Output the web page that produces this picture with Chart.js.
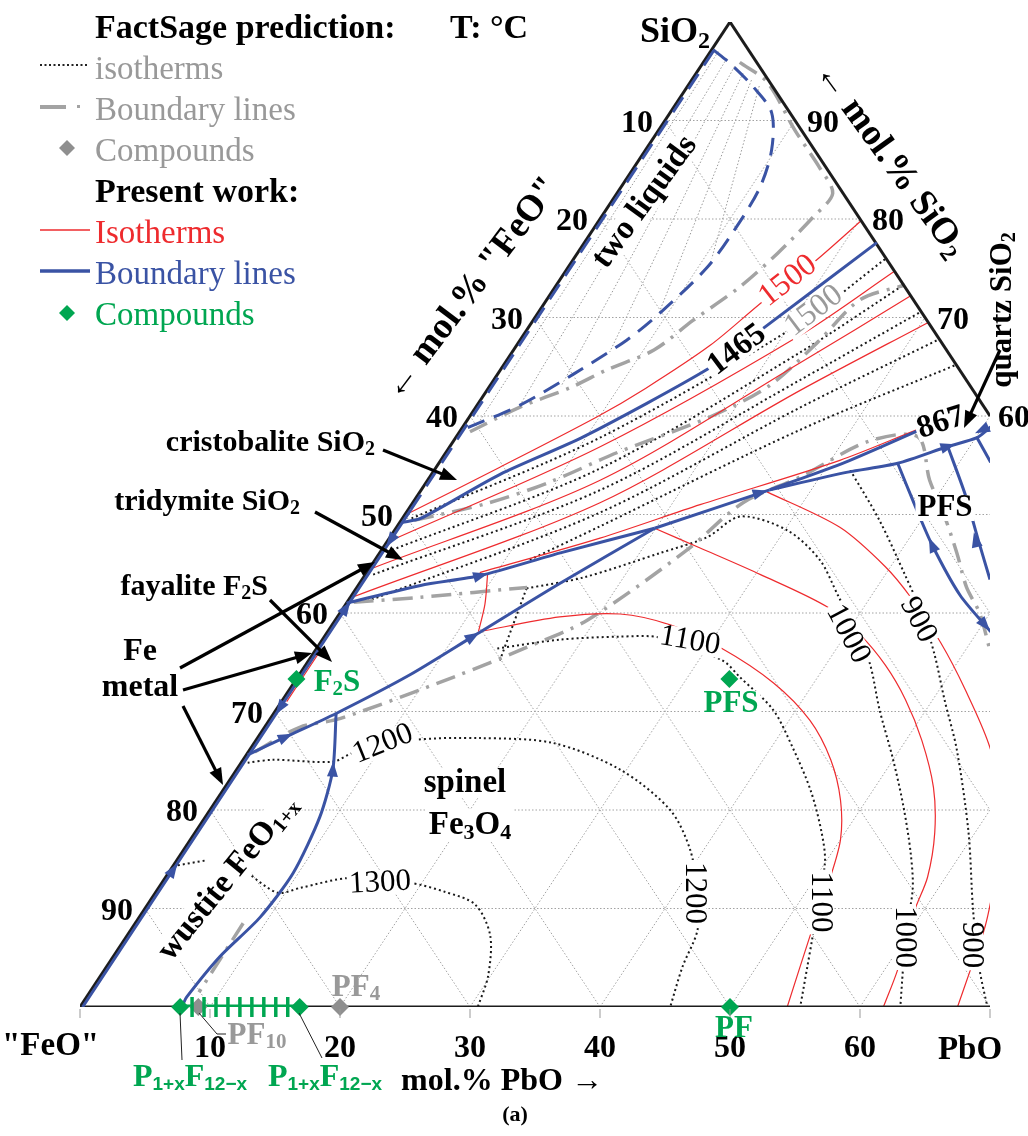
<!DOCTYPE html>
<html>
<head>
<meta charset="utf-8">
<style>html,body{margin:0;padding:0;background:#fff}canvas{display:block}</style>
<script src="https://cdn.jsdelivr.net/npm/chart.js@4.4.0/dist/chart.umd.min.js"></script>
</head>
<body>
<canvas id="chart" width="1028" height="1136"></canvas>
<script>
// every point is [mol% PbO, mol% SiO2]; "FeO" is the rest
let gridTicks = [10, 20, 30, 40, 50, 60, 70, 80, 90];
let bottomTicks = [10, 20, 30, 40, 50, 60];
let leftTicks = [10, 20, 30, 40, 50, 60, 70, 80, 90];   // mol% "FeO"
let rightTicks = [90, 80, 70, 60];                      // mol% SiO2

let edgeLeft = [[0, 0], [0, 100]];
let edgeRight = [[0, 100], [40, 60]];
let edgeBottom = [[0, 0], [70, 0]];

// present work: isotherms (red)
let red1500 = [[0.3, 50.2], [4.9, 54.8], [9.8, 59.9], [12.1, 62.8], [14.9, 67.2], [16.7, 71.6], [18.6, 75.5], [20.2, 79.9]];
let redBand2 = [[0.3, 47.4], [11.6, 56.9], [21.3, 68.2], [25.3, 74.7]];
let redBand3 = [[0.3, 44.6], [13.3, 53.5], [22.7, 65.4], [27.8, 72.2]];
let redBand4 = [[0.3, 41.7], [14.4, 51.2], [24.1, 62.6], [30.5, 69.5]];
let redBand5 = [[8.7, 44.1], [16.2, 47.6], [22.2, 51.0], [30.7, 55.5], [35.8, 59.1], [38.3, 60.4]];
let redLink = [[9.4, 43.9], [10.7, 40.9], [11.6, 38.1]];
let redEdge = [[0.4, 36.2], [0.4, 31.0]];
let red1100 = [[11.7, 38.1], [17.1, 39.6], [21.6, 39.9], [26.0, 38.8], [31.0, 36.5], [36.9, 32.9], [41.6, 29.1], [45.2, 25.1], [48.0, 21.0], [50.0, 17.0], [51.2, 12.9], [52.4, 7.8], [54.4, 0]];
let red1000 = [[19.9, 48.6], [24.4, 46.6], [30.4, 43.9], [37.2, 40.6], [41.1, 37.8], [44.6, 34.7], [47.9, 31.2], [51.2, 27.1], [54.5, 22.3], [56.9, 17.7], [58.6, 13.2], [59.3, 9.8], [61.0, 3.8], [61.8, 0]];
let red900 = [[26.7, 52.3], [34.1, 48.7], [39.6, 44.7], [43.1, 41.6], [47.7, 37.0], [52.0, 32.2], [57.0, 26.1], [61.5, 19.0], [63.9, 12.9], [65.5, 8.3], [66.6, 3.8], [67.5, 0]];

// present work: boundary lines (blue)
let blueEdge = [[0.2, 0], [0.2, 50.5]];
let blueEdgeDash = [[0.2, 50.5], [0.2, 97.2]];
let blueTwoLiquids = [[0.1, 97.2], [2.1, 95.8], [5.1, 93.4], [7.8, 90.8], [9.7, 87.0], [10.7, 83.2], [10.9, 79.2], [10.7, 75.1], [9.4, 70.5], [8.2, 67.7], [5.8, 64.2], [3.3, 61.1], [0.4, 58.8]];
let blue1465 = [[0.2, 49.2], [1.4, 49.6], [5.3, 54.1], [9.8, 57.9], [16.0, 64.9], [18.1, 68.9], [22.5, 77.6]];
let blueA = [[0.0, 41.0], [4.8, 42.8], [8.9, 43.8], [13.9, 46.1], [19.9, 48.6]];
let blueB = [[0.1, 25.6], [2.1, 27.4], [4.8, 29.8], [8.5, 33.7], [11.4, 37.6], [15.4, 43.0], [19.9, 48.6]];
let blueC = [[19.9, 48.6], [26.8, 52.5]];
let blueUpper = [[26.8, 52.5], [31.2, 55.3], [35.3, 58.6]];
let blueLower = [[26.8, 52.5], [31.9, 54.3], [35.3, 55.2], [38.3, 56.9], [40.1, 57.8], [40.6, 58.9]];
let bluePFS1 = [[35.3, 55.2], [38.7, 51.0], [42.1, 46.9], [46.8, 41.8], [51.0, 38.1]];
let bluePFS2 = [[38.3, 56.9], [42.1, 52.0], [45.4, 47.4], [48.3, 43.4]];
let bluePFS3 = [[40.1, 57.8], [42.4, 55.3]];
let blueWustite = [[4.8, 29.8], [7.4, 24.1], [8.8, 19.3], [9.6, 13.6], [9.3, 9.1], [8.2, 5.1], [7.7, 1.0], [7.8, 0.2]];
// arrow marks: position, then a point it points toward
let blueArrows = [
  [0.2, 13.9, 0.2, 16], [0.2, 30.4, 0.2, 28], [0.2, 40.5, 0.2, 43], [0.2, 47.4, 0.2, 45],
  [2.1, 27.4, 4.8, 29.8], [11.4, 37.6, 15.4, 43.0], [8.9, 43.8, 13.9, 46.1], [26.2, 52.2, 26.8, 52.5],
  [38.3, 56.9, 40.1, 57.8], [42.1, 46.9, 38.7, 51.0], [50.2, 38.8, 51.0, 38.1], [45.2, 47.4, 42.1, 52.0],
  [7.4, 24.1, 4.8, 29.8], [40.1, 58.6, 38.3, 56.9]
];

// FactSage: isotherms (black dotted)
let dotBand1 = [[0.7, 49.6], [11.1, 57.8], [20.7, 69.4], [24.0, 76.0]];
let dotBand2 = [[0.8, 46.4], [12.7, 54.7], [22.2, 66.5], [26.7, 73.3]];
let dotBand3 = [[0.6, 43.9], [13.8, 52.5], [23.6, 63.7], [29.4, 70.6]];
let dotBand4 = [[1.5, 41.2], [14.9, 50.2], [25.0, 60.9], [32.2, 67.8]];
let dotBand5 = [[11.9, 45.4], [15.6, 48.8], [26.1, 58.6], [34.8, 65.2]];
let dotShort = [[13.1, 42.5], [14.7, 35.2]];
let dot1300a = [[0.0, 14.3], [2.3, 14.9]];
let dot1300 = [[6.1, 13.6], [9.4, 11.6], [10.9, 12.1], [14.2, 13.1], [19.1, 12.6], [22.2, 11.7], [25.2, 10.4], [27.9, 7.3], [29.8, 3.2], [30.6, 0]];
let dot1200 = [[0.5, 24.8], [2.3, 25.1], [7.0, 24.9], [8.1, 25.8], [12.1, 27.1], [17.1, 27.3], [23.0, 26.8], [29.5, 24.1], [35.4, 20.0], [39.0, 15.9], [41.8, 11.4], [43.6, 7.8], [44.3, 4.1], [45.4, 0]];
let dot1100 = [[13.9, 36.4], [18.3, 37.3], [22.7, 37.6], [25.9, 37.5], [31.8, 35.2], [34.0, 33.5], [38.2, 30.2], [41.6, 26.4], [45.2, 22.0], [48.2, 17.7], [50.0, 14.6], [52.8, 7.1], [53.9, 4.1], [55.4, 0]];
let dot1000 = [[13.1, 42.5], [16.9, 43.6], [21.6, 46.1], [24.4, 47.7], [25.9, 49.8], [30.2, 48.4], [34.2, 45.4], [37.4, 41.8], [40.5, 38.3], [43.3, 34.9], [46.4, 30.2], [50.0, 25.1], [53.2, 20.3], [56.1, 15.6], [58.1, 11.9], [59.9, 7.1], [61.4, 3.8], [63.1, 0]];
let dot900 = [[32.0, 54.5], [36.8, 49.4], [41.5, 43.9], [44.9, 39.8], [47.9, 35.7], [50.9, 31.2], [54.4, 26.1], [59.5, 17.7], [63.8, 9.8], [67.3, 3.8], [69.8, 0]];
let tieLines = [
  [[0.6, 97.0], [1.0, 59.5]], [[1.6, 96.3], [3.3, 61.0]], [[2.6, 95.5], [5.5, 63.0]],
  [[3.6, 94.8], [7.5, 66.5]], [[4.6, 94.1], [9.3, 70.5]], [[5.5, 93.5], [10.6, 76.0]]
];

// FactSage: boundary lines (grey dash-dot)
let greyTwoLiquids = [[2.8, 95.9], [5.9, 93.9], [10.5, 89.0], [14.3, 85.2], [16.6, 82.6], [16.3, 80.2], [15.4, 76.5], [14.2, 73.1], [12.3, 69.7], [10.8, 66.7], [8.2, 64.7], [6.3, 62.9], [3.4, 60.9], [0.8, 58.4]];
let grey1500 = [[1.0, 49.4], [5.9, 51.2], [9.5, 53.3], [13.2, 56.3], [18.5, 59.9], [21.5, 63.1], [23.0, 67.5], [24.1, 71.8], [26.8, 73.3]];
let greyFayalite = [[0.5, 41.1], [5.4, 41.6], [13.1, 42.6]];
let greySpinel = [[0.5, 25.9], [2.7, 28.4], [5.4, 29.3], [12.0, 33.5], [16.1, 36.5], [19.4, 39.3], [23.5, 46.4], [25.4, 51.2], [28.5, 53.8], [31.9, 57.4], [35.5, 57.9], [38.6, 53.5], [41.3, 50.2], [44.4, 46.1], [46.9, 42.6], [49.2, 40.0], [51.9, 36.2]];
let greyWustite = [[8.3, 8.5], [8.4, 1.5]];

// compounds
let greenCompounds = [[0, 33.3], [33.3, 33.3], [50, 0], [7.7, 0], [16.9, 0]];
let greyCompounds = [[9.1, 0], [20, 0]];
let solidSolution = [[7.7, 0], [16.9, 0]];

const RED = '#ee2b2e', BLUE = '#3a53a4', GREEN = '#00a651', GREY = '#a3a3a3', GRID = '#a2a2a2';
const SF = '"Liberation Serif","Times New Roman",serif';
const SANS = '"Liberation Sans",Arial,sans-serif';

const toXY = pts => pts.map(([p, s]) => ({x: p + s / 2, y: s}));
let datasets = [];
function addLine(pts, color, width, dash, tension, order) {
  datasets.push({
    data: toXY(pts), showLine: true, borderColor: color, borderWidth: width,
    borderDash: dash, tension: tension, pointRadius: 0, fill: false, order: order
  });
}

gridTicks.forEach(k => {
  addLine([[0, k], [100 - k, k]], GRID, 1, [1.5, 2], 0, 9);
  addLine([[k, 0], [k, 100 - k]], GRID, 1, [1.5, 2], 0, 9);
  addLine([[100 - k, 0], [0, 100 - k]], GRID, 1, [1.5, 2], 0, 9);
});
tieLines.forEach(t => addLine(t, '#9a9a9a', 1, [1.5, 2], 0, 8));

[dotBand1, dotBand2, dotBand3, dotBand4, dotBand5, dotShort, dot1300a, dot1300, dot1200, dot1100, dot1000, dot900]
  .forEach(d => addLine(d, '#1a1a1a', 2, [2, 3], 0.3, 6));
[greyTwoLiquids, grey1500, greyFayalite, greySpinel, greyWustite]
  .forEach(d => addLine(d, GREY, 3.5, [20, 8, 3, 8], 0.3, 5));
[red1500, redBand2, redBand3, redBand4, redBand5, redLink, redEdge, red1100, red1000, red900]
  .forEach(d => addLine(d, RED, 1.2, [], 0.3, 4));
addLine(edgeLeft, '#1c1c1c', 3, [], 0, 3);
addLine(edgeRight, '#1c1c1c', 3, [], 0, 3);
addLine(edgeBottom, '#1c1c1c', 3, [], 0, 3);
[blueEdge, blue1465, blueA, blueB, blueC, blueUpper, blueLower, bluePFS1, bluePFS2, bluePFS3, blueWustite]
  .forEach(d => addLine(d, BLUE, 3, [], 0.25, 2));
addLine(blueEdgeDash, BLUE, 3, [18, 10], 0, 2);
addLine(blueTwoLiquids, BLUE, 3, [18, 10], 0.3, 2);
addLine(solidSolution, GREEN, 5, [], 0, 1);
datasets.push({data: toXY(greenCompounds), pointStyle: 'rectRot', pointRadius: 9, backgroundColor: GREEN, borderColor: GREEN, borderWidth: 0, order: 0, clip: false});
datasets.push({data: toXY(greyCompounds), pointStyle: 'rectRot', pointRadius: 9, backgroundColor: '#8f8f8f', borderColor: '#8f8f8f', borderWidth: 0, order: 0, clip: false});

function richWidth(ctx, parts) {
  let w = 0;
  parts.forEach(pt => { ctx.font = pt.f; w += ctx.measureText(pt.t).width; });
  return w;
}
function drawRich(ctx, parts, x, y, align, color) {
  let w = richWidth(ctx, parts);
  let cx = align === 'center' ? x - w / 2 : align === 'right' ? x - w : x;
  ctx.textAlign = 'left';
  parts.forEach(pt => {
    ctx.font = pt.f; ctx.fillStyle = pt.c || color;
    ctx.fillText(pt.t, cx, y + (pt.dy || 0));
    cx += ctx.measureText(pt.t).width;
  });
}
function drawRot(ctx, parts, cx, cy, deg, color, bg) {
  ctx.save();
  ctx.translate(cx, cy); ctx.rotate(deg * Math.PI / 180);
  ctx.textBaseline = 'middle';
  if (bg) {
    let w = richWidth(ctx, parts);
    ctx.fillStyle = '#fff'; ctx.fillRect(-w / 2 - 2, -bg / 2, w + 4, bg);
  }
  drawRich(ctx, parts, 0, 0, 'center', color);
  ctx.restore();
}
function arrow(ctx, x1, y1, x2, y2) {
  let a = Math.atan2(y2 - y1, x2 - x1), h = 17;
  ctx.strokeStyle = '#000'; ctx.fillStyle = '#000'; ctx.lineWidth = 3.2; ctx.setLineDash([]);
  ctx.beginPath(); ctx.moveTo(x1, y1); ctx.lineTo(x2 - h * 0.8 * Math.cos(a), y2 - h * 0.8 * Math.sin(a)); ctx.stroke();
  ctx.beginPath(); ctx.moveTo(x2, y2);
  ctx.lineTo(x2 - h * Math.cos(a) + 6.5 * Math.sin(a), y2 - h * Math.sin(a) - 6.5 * Math.cos(a));
  ctx.lineTo(x2 - h * Math.cos(a) - 6.5 * Math.sin(a), y2 - h * Math.sin(a) + 6.5 * Math.cos(a));
  ctx.closePath(); ctx.fill();
}
function diamond(ctx, x, y, r, color) {
  ctx.fillStyle = color; ctx.beginPath();
  ctx.moveTo(x, y - r); ctx.lineTo(x + r, y); ctx.lineTo(x, y + r); ctx.lineTo(x - r, y); ctx.closePath(); ctx.fill();
}

const B = sz => 'bold ' + sz + 'px ' + SF;
const R = sz => sz + 'px ' + SF;

const textPlugin = {
  id: 'phaseText',
  afterDatasetsDraw(chart) {
    const ctx = chart.ctx, xs = chart.scales.x, ys = chart.scales.y;
    const P = (p, s) => [xs.getPixelForValue(p + s / 2), ys.getPixelForValue(s)];
    ctx.save();

    // flow arrows on the blue lines
    ctx.fillStyle = BLUE;
    blueArrows.forEach(([p, s, p2, s2]) => {
      const [x, y] = P(p, s), [x2, y2] = P(p2, s2);
      const a = Math.atan2(y2 - y, x2 - x);
      ctx.beginPath();
      ctx.moveTo(x + 8 * Math.cos(a), y + 8 * Math.sin(a));
      ctx.lineTo(x - 7 * Math.cos(a) + 5.5 * Math.sin(a), y - 7 * Math.sin(a) - 5.5 * Math.cos(a));
      ctx.lineTo(x - 7 * Math.cos(a) - 5.5 * Math.sin(a), y - 7 * Math.sin(a) + 5.5 * Math.cos(a));
      ctx.closePath(); ctx.fill();
    });

    // small ticks under the PbO axis and the solid-solution marks
    ctx.strokeStyle = '#999'; ctx.lineWidth = 1;
    [0].concat(bottomTicks, [70]).forEach(k => {
      const [x, y] = P(k, 0);
      ctx.beginPath(); ctx.moveTo(x, y + 2); ctx.lineTo(x, y + 11); ctx.stroke();
    });
    ctx.strokeStyle = GREEN; ctx.lineWidth = 3.5;
    const [sx0, sy0] = P(solidSolution[0][0], 0), [sx1] = P(solidSolution[1][0], 0);
    for (let i = 1; i < 10; i++) {
      const x = sx0 + (sx1 - sx0) * i / 10;
      ctx.beginPath(); ctx.moveTo(x, sy0 - 10); ctx.lineTo(x, sy0 + 10); ctx.stroke();
    }

    // tick labels
    ctx.fillStyle = '#000'; ctx.font = B(32); ctx.textBaseline = 'middle';
    leftTicks.forEach(k => { const [x, y] = P(0, 100 - k); ctx.textAlign = 'right'; ctx.fillText(String(k), x - 12, y + 3); });
    rightTicks.forEach(k => { const [x, y] = P(100 - k, k); ctx.textAlign = 'left'; ctx.fillText(String(k), x + (k === 60 ? 8 : 12), y + 3); });
    bottomTicks.forEach(k => { const [x, y] = P(k, 0); ctx.textAlign = 'center'; ctx.fillText(String(k), x, y + 42); });

    // corner and axis titles
    ctx.textAlign = 'left';
    ctx.font = B(33); ctx.fillText('"FeO"', 2, 1046);
    ctx.textAlign = 'center'; ctx.fillText('PbO', 970, 1050);
    drawRich(ctx, [{t: 'SiO', f: B(36)}, {t: '2', f: B(24), dy: 9}], 710, 33, 'right', '#000');
    drawRich(ctx, [{t: 'mol.% PbO', f: B(32)}, {t: ' \u2192', f: R(32)}], 502, 1082, 'center', '#000');
    ctx.font = B(22); ctx.textAlign = 'center'; ctx.fillText('(a)', 515, 1115);
    drawRot(ctx, [{t: '\u2190 ', f: R(36)}, {t: 'mol.% "FeO"', f: B(37)}], 472, 289, -53, '#000');
    drawRot(ctx, [{t: '\u2190 ', f: R(36)}, {t: 'mol.% SiO', f: B(37)}, {t: '2', f: B(24), dy: 9}], 890, 160, 54, '#000');
    drawRot(ctx, [{t: 'quartz SiO', f: B(31)}, {t: '2', f: B(20), dy: 7}], 1003, 310, -90, '#000');

    // field labels
    drawRot(ctx, [{t: 'two liquids', f: B(33)}], 645, 202, -54, '#000', 28);
    drawRot(ctx, [{t: 'wustite FeO', f: B(33)}, {t: '1+x', f: B(21), dy: 8}], 228, 878, -51, '#000', 30);
    drawRot(ctx, [{t: 'spinel', f: B(33)}], 465, 783, 0, '#000', 30);
    drawRot(ctx, [{t: 'Fe', f: B(33)}, {t: '3', f: B(22), dy: 8}, {t: 'O', f: B(33)}, {t: '4', f: B(22), dy: 8}], 470, 825, 0, '#000', 32);
    drawRot(ctx, [{t: 'PFS', f: B(31)}], 945, 508, 0, '#000', 26);
    ctx.textBaseline = 'middle';
    drawRich(ctx, [{t: 'cristobalite SiO', f: B(30)}, {t: '2', f: B(20), dy: 7}], 375, 443, 'right', '#000');
    drawRich(ctx, [{t: 'tridymite SiO', f: B(30)}, {t: '2', f: B(20), dy: 7}], 300, 502, 'right', '#000');
    drawRich(ctx, [{t: 'fayalite F', f: B(30)}, {t: '2', f: B(20), dy: 7}, {t: 'S', f: B(30)}], 268, 587, 'right', '#000');
    drawRich(ctx, [{t: 'Fe', f: B(32)}], 140, 652, 'center', '#000');
    drawRich(ctx, [{t: 'metal', f: B(32)}], 140, 688, 'center', '#000');

    // isotherm labels
    drawRot(ctx, [{t: '1500', f: R(32)}], 788, 281, -38, RED, 24);
    drawRot(ctx, [{t: '1500', f: R(32)}], 814, 311, -37, '#9a9a9a', 24);
    drawRot(ctx, [{t: '1465', f: B(32)}], 737, 350, -37, '#000', 24);
    drawRot(ctx, [{t: '867', f: B(32)}], 941, 423, -18, '#000', 24);
    drawRot(ctx, [{t: '1100', f: R(31)}], 690, 641, 10, '#000', 24);
    drawRot(ctx, [{t: '1000', f: R(31)}], 848, 634, 62, '#000', 24);
    drawRot(ctx, [{t: '900', f: R(31)}], 918, 620, 62, '#000', 24);
    drawRot(ctx, [{t: '1200', f: R(31)}], 383, 744, -22, '#000', 24);
    drawRot(ctx, [{t: '1300', f: R(31)}], 380, 883, -3, '#000', 24);
    drawRot(ctx, [{t: '1200', f: R(31)}], 694, 893, 90, '#000', 24);
    drawRot(ctx, [{t: '1100', f: R(31)}], 820, 902, 90, '#000', 24);
    drawRot(ctx, [{t: '1000', f: R(31)}], 904, 937, 90, '#000', 24);
    drawRot(ctx, [{t: '900', f: R(31)}], 971, 945, 90, '#000', 24);

    // compound labels
    drawRot(ctx, [{t: 'F', f: B(31)}, {t: '2', f: B(21), dy: 7}, {t: 'S', f: B(31)}], 337, 683, 0, GREEN, 26);
    drawRot(ctx, [{t: 'PFS', f: B(31)}], 731, 704, 0, GREEN, 26);
    drawRot(ctx, [{t: 'PF', f: B(31)}], 734, 1029, 0, GREEN);
    drawRot(ctx, [{t: 'PF', f: B(31)}, {t: '4', f: B(21), dy: 7}], 356, 988, 0, '#999');
    drawRot(ctx, [{t: 'PF', f: B(31)}, {t: '10', f: B(21), dy: 7}], 257, 1036, 0, '#999');
    const pxf = [{t: 'P', f: B(32)}, {t: '1+x', f: 'bold 19px ' + SANS, dy: 7}, {t: 'F', f: B(32)}, {t: '12\u2212x', f: 'bold 19px ' + SANS, dy: 7}];
    drawRot(ctx, pxf, 190, 1078, 0, GREEN);
    drawRot(ctx, pxf, 325, 1078, 0, GREEN);
    ctx.strokeStyle = '#222'; ctx.lineWidth = 1;
    ctx.beginPath(); ctx.moveTo(180, 1013); ctx.lineTo(182, 1060); ctx.stroke();
    ctx.beginPath(); ctx.moveTo(299, 1013); ctx.lineTo(322, 1058); ctx.stroke();
    ctx.beginPath(); ctx.moveTo(199, 1013); ctx.lineTo(217, 1034); ctx.lineTo(226, 1034); ctx.stroke();

    // pointer arrows
    arrow(ctx, 383, 450, 457, 480);
    arrow(ctx, 315, 512, 403, 560);
    arrow(ctx, 270, 600, 332, 662);
    arrow(ctx, 180, 668, 375, 562);
    arrow(ctx, 183, 690, 312, 653);
    arrow(ctx, 183, 706, 223, 785);
    arrow(ctx, 1000, 350, 964, 428);

    // legend
    ctx.textAlign = 'left'; ctx.textBaseline = 'alphabetic';
    ctx.fillStyle = '#000'; ctx.font = B(34);
    ctx.fillText('FactSage prediction:', 95, 38);
    ctx.fillText('T: \u00b0C', 450, 38);
    ctx.fillText('Present work:', 95, 202);
    ctx.font = R(33); ctx.fillStyle = '#999';
    ctx.fillText('isotherms', 95, 79);
    ctx.fillText('Boundary lines', 95, 120);
    ctx.fillText('Compounds', 95, 161);
    ctx.fillStyle = RED; ctx.fillText('Isotherms', 95, 243);
    ctx.fillStyle = BLUE; ctx.fillText('Boundary lines', 95, 284);
    ctx.fillStyle = GREEN; ctx.fillText('Compounds', 95, 325);
    ctx.strokeStyle = '#222'; ctx.lineWidth = 2; ctx.setLineDash([2, 2.5]);
    ctx.beginPath(); ctx.moveTo(40, 65); ctx.lineTo(88, 65); ctx.stroke();
    ctx.setLineDash([]);
    ctx.strokeStyle = GREY; ctx.lineWidth = 4;
    ctx.beginPath(); ctx.moveTo(40, 107); ctx.lineTo(66, 107); ctx.stroke();
    ctx.fillStyle = GREY; ctx.fillRect(77, 105, 3, 3);
    diamond(ctx, 67, 148, 8, '#8f8f8f');
    ctx.strokeStyle = RED; ctx.lineWidth = 1.3;
    ctx.beginPath(); ctx.moveTo(40, 230); ctx.lineTo(90, 230); ctx.stroke();
    ctx.strokeStyle = BLUE; ctx.lineWidth = 3.5;
    ctx.beginPath(); ctx.moveTo(40, 271); ctx.lineTo(90, 271); ctx.stroke();
    diamond(ctx, 67, 313, 8, GREEN);
    ctx.restore();
  }
};

let ctx = document.getElementById('chart').getContext('2d');
let chart = new Chart(ctx, {
  type: 'scatter',
  data: {datasets: datasets},
  options: {
    responsive: false,
    animation: false,
    devicePixelRatio: 1,
    layout: {padding: {left: 80, right: 38, top: 22, bottom: 129}},
    scales: {
      x: {type: 'linear', min: 0, max: 70, display: false},
      y: {type: 'linear', min: 0, max: 100, display: false}
    },
    plugins: {legend: {display: false}, tooltip: {enabled: false}}
  },
  plugins: [textPlugin]
});
</script>
</body>
</html>
